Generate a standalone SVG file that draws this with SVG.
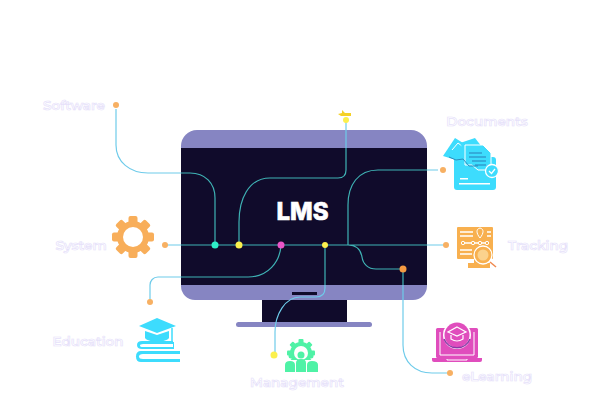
<svg xmlns="http://www.w3.org/2000/svg" width="610" height="409" viewBox="0 0 610 409">
<style>
.lbl{font-family:"Montserrat","Inter","Liberation Sans",sans-serif;font-size:13.5px;font-weight:600;fill:#fff;stroke:#e6e1fa;stroke-width:.7;text-anchor:middle;dominant-baseline:central}
.w{fill:none;stroke-width:1.2}
.bl{stroke:#6ecbea}.te{stroke:#3fb3b5}
.o{fill:#f7b063}.y{fill:#fbf04d}
.cy{fill:#3ddcfd}.or{fill:#f8b04f}.pk{fill:#e04dbd}.gr{fill:#4ff2a6}
.ws{fill:none;stroke:#fff;stroke-width:1.3}
</style>
<defs>
<clipPath id="sc"><rect x="181" y="148" width="246" height="137"/></clipPath>
<clipPath id="out"><path clip-rule="evenodd" d="M0 0H610V409H0ZM181 148V285H427V148Z"/></clipPath>
<path id="wires" d="M116 109V145C116 162 130 173 148 173H190C205 173 215 183 215 198V245M165 245H447M239 245V222C239 200 248 178 270 178H338C344 178 346 174 346 170V121M348 245V205C348 185 358 170 378 170H438M348 245C358 245 361 251 362 257C363 264 368 269 376 269H403V345C403 362 415 373 432 373H449M281 245C280 262 268 277 248 277H158C153 277 150 281 150 285V300M325 245V288C325 294 322 297 316 297H300C285 297 275 315 275 332V352"/>
</defs>
<g id="monitor">
<rect x="262" y="295" width="85" height="30" fill="#100b2b"/>
<rect x="236" y="322" width="136" height="5" rx="2.500" fill="#8685c2"/>
<path d="M181 148V146A16 16 0 0 1 197 130H411A16 16 0 0 1 427 146V148Z" fill="#8685c2"/>
<path d="M181 285H427V286A14 14 0 0 1 413 300H195A14 14 0 0 1 181 286Z" fill="#8685c2"/>
<rect x="181" y="148" width="246" height="137" fill="#100b2b"/>
<rect x="292" y="292" width="25" height="3" fill="#100b2b"/>
<text x="302.500" y="211" text-anchor="middle" dominant-baseline="central" style="font-family:'Inter','Liberation Sans',sans-serif;font-size:24px;font-weight:800;fill:#fff;stroke:#fff;stroke-width:.6">LMS</text>
</g>
<g id="connectors">
<use href="#wires" class="w bl" clip-path="url(#out)"/>
<use href="#wires" class="w te" clip-path="url(#sc)"/>
<circle cx="116" cy="105" r="3" class="o"/>
<circle cx="165" cy="245" r="3" class="o"/>
<circle cx="443" cy="170" r="3" class="o"/>
<circle cx="446" cy="245" r="3" class="o"/>
<circle cx="403" cy="269" r="3.500" fill="#f59a42"/>
<circle cx="450" cy="373" r="3" class="o"/>
<circle cx="150" cy="302" r="3" class="o"/>
<circle cx="274" cy="355" r="3.500" class="y"/>
<circle cx="346" cy="120" r="3" class="y"/>
<circle cx="215" cy="245" r="3.500" fill="#2ef0c8"/>
<circle cx="239" cy="245" r="3.500" class="y"/>
<circle cx="281" cy="245" r="3.500" fill="#ea55c8"/>
<circle cx="325" cy="245" r="3" class="y"/>
</g>
<g id="cap-mark"><path d="M338 114L342 113L342 110L345 113L351 113V116H341Z" fill="#f5d126"/></g>
<g id="node-software"><text x="74" y="105" class="lbl">Software</text></g>
<g id="node-system">
<text x="81" y="245" class="lbl">System</text>
<g transform="translate(133 237)" style="fill:#f8ae5a">
<circle r="16"/>
<rect x="-4.500" y="-21" width="9" height="42" rx="2"/>
<rect x="-4.500" y="-21" width="9" height="42" rx="2" transform="rotate(45)"/>
<rect x="-4.500" y="-21" width="9" height="42" rx="2" transform="rotate(90)"/>
<rect x="-4.500" y="-21" width="9" height="42" rx="2" transform="rotate(135)"/>
<circle r="10" fill="#fff"/>
</g>
</g>
<g id="node-documents">
<text x="487" y="121" class="lbl">Documents</text>
<path d="M443 156L455 138L468 146L464 160L456 160Z" class="cy"/>
<path d="M452 150L458 143L466 149" fill="none" stroke="#fff" stroke-width="1"/>
<path d="M460 143L475 138L482 147L468 160Z" class="cy"/>
<rect x="454" y="157" width="42" height="33" rx="3" class="cy"/>
<path d="M465 145H483L491 153V170H478L472 165H465Z" class="cy" stroke="#fff" stroke-width="1"/>
<path d="M449 157L456 160L463 159L469 166H478" fill="none" stroke="#2a8fc0" stroke-width="1"/>
<path d="M469 153H482M469 157H486M472 161H486M475 165H486" stroke="#2a7fb8" stroke-width="1"/>
<rect x="460" y="178" width="8" height="1.500" fill="#fff"/>
<rect x="459" y="183" width="31" height="1.500" fill="#fff"/>
<circle cx="492" cy="171" r="6.500" class="cy" stroke="#fff" stroke-width="1.300"/>
<path d="M489 171L491.500 173.500L495 169" class="ws"/>
</g>
<g id="node-tracking">
<text x="538" y="245" class="lbl">Tracking</text>
<rect x="457" y="227" width="36" height="32" rx="1" class="or"/>
<path d="M474 257H484V263H490V268H468V263H474Z" class="or"/>
<path d="M460 232H473M460 236H473M487 232H491M487 236H491M462 243H488M460 250H472M460 254H472" class="ws" stroke-width="1"/>
<circle cx="463" cy="243" r="1.700" class="or" stroke="#fff"/><circle cx="473" cy="243" r="1.700" class="or" stroke="#fff"/><circle cx="480" cy="243" r="1.700" class="or" stroke="#fff"/><circle cx="487" cy="243" r="1.700" class="or" stroke="#fff"/>
<path d="M480 238C476 233 476 229 480 228C484 229 484 233 480 238Z" class="or" stroke="#fff"/>
<circle cx="483" cy="255" r="9" class="or" stroke="#fff" stroke-width="1.300"/>
<circle cx="483" cy="255" r="5.500" fill="#fbd28d"/>
<path d="M490 262L496 267" stroke="#f08a50" stroke-width="1.500"/>
</g>
<g id="node-education">
<text x="88" y="341" class="lbl">Education</text>
<path d="M157 318L176 326L157 333L139 326Z" class="cy"/>
<path d="M145 331L157 335L169 331V338C165 343 149 343 145 338Z" class="cy"/>
<path d="M172 328V343" stroke="#3ddcfd" stroke-width="1.500"/>
<rect x="171" y="342" width="3" height="7" class="cy"/>
<path d="M173 341H142Q137 341 137 345Q137 349 142 349H173Z" class="cy"/>
<path d="M173 344H143Q140 344 140 345.500Q140 347 143 347H173Z" fill="#fff"/>
<path d="M180 351H141Q136 351 136 356.500Q136 362 141 362H180Z" class="cy"/>
<path d="M180 354H143Q139 354 139 356.500Q139 359 143 359H180Z" fill="#fff"/>
</g>
<g id="node-management">
<text x="297" y="382" class="lbl">Management</text>
<g style="fill:#4ff2a6">
<circle cx="301" cy="353" r="11"/>
<g transform="translate(301 353)"><rect x="-2.500" y="-14" width="5" height="28" rx="1"/><rect x="-2.500" y="-14" width="5" height="28" rx="1" transform="rotate(45)"/><rect x="-2.500" y="-14" width="5" height="28" rx="1" transform="rotate(90)"/><rect x="-2.500" y="-14" width="5" height="28" rx="1" transform="rotate(135)"/></g>
<circle cx="301" cy="353" r="7" fill="#fff"/>
<circle cx="301" cy="355" r="3.500"/>
<circle cx="291" cy="356" r="2.500"/><circle cx="311" cy="356" r="2.500"/>
<rect x="284" y="360" width="35" height="13" fill="#fff"/>
<path d="M285 372V365Q285 361 290 361Q295 361 295 365V372Z"/>
<path d="M296 372V363Q296 359 301 359Q306 359 306 363V372Z"/>
<path d="M307 372V365Q307 361 312 361Q318 361 318 365V372Z"/>
</g>
</g>
<g id="node-elearning">
<text x="497" y="376" class="lbl">eLearning</text>
<rect x="436" y="328" width="42" height="30" rx="1.500" class="pk"/>
<path d="M440 332V355H474V332" fill="none" stroke="#fff" stroke-width="1"/>
<path d="M432 358H482V360Q482 362 480 362H434Q432 362 432 360Z" class="pk"/>
<circle cx="457" cy="335" r="14" fill="#fff"/>
<circle cx="457" cy="335" r="12.500" class="pk"/>
<path d="M444 339A14 14 0 0 0 470 339" fill="none" stroke="#8a3aa6" stroke-width="1.500"/>
<path d="M457 327L466 332L457 336L448 332Z" class="pk" stroke="#fff" stroke-width="1.200"/>
<path d="M451 335V339Q457 343 463 339V335" fill="none" stroke="#fff" stroke-width="1.200"/>
<path d="M447 359V360H467V359" fill="none" stroke="#fff" stroke-width="1"/>
</g>
</svg>
